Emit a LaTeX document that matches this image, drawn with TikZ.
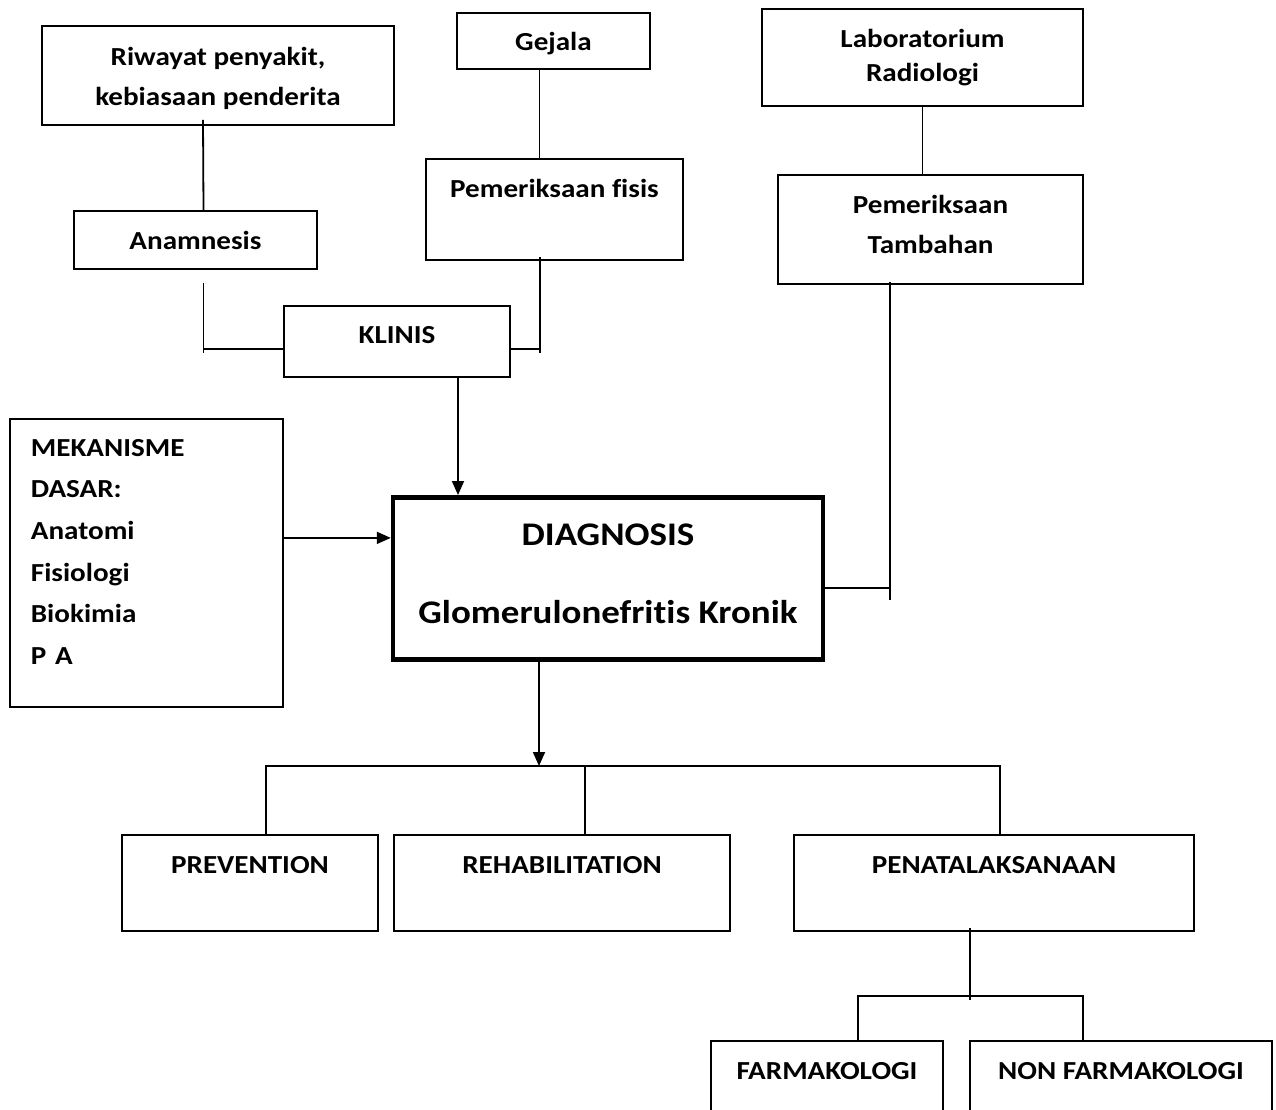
\documentclass[tikz,border=0pt]{standalone}
\usepackage{fontspec}
\setmainfont{Carlito}[FakeStretch=1.12, Ligatures=NoCommon]
\usetikzlibrary{positioning,arrows.meta}

\begin{document}
\begin{tikzpicture}[x=1pt, y=-1pt,
		rectnode/.style={rectangle, draw=black, line width=1.8pt, inner sep=0pt, align=center, font=\fontsize{26}{40}\selectfont\bfseries},
		bignode/.style={rectnode, line width=4.5pt, font=\fontsize{33}{78}\selectfont\bfseries},
		lownode/.style={rectnode, anchor=north, minimum height=96pt, text height=38.4pt, text depth=57.6pt},
		link/.style={line width=1.8pt},
		arrow/.style={link, -{Triangle[length=14pt, width=12pt]}},
	]

		\useasboundingbox (0,0) rectangle (1276,1110);

		% nodes
		\node[rectnode, anchor=north, minimum width=352pt, text height=80pt, text depth=19pt] (riwayat) at (218,25) {Riwayat penyakit,\\kebiasaan penderita};
		\node[rectnode, anchor=north, minimum width=193pt, text height=38pt, text depth=18pt] (gejala) at (553.5,12) {Gejala};
		\node[rectnode, minimum width=321pt, minimum height=97pt, font=\fontsize{26}{34}\selectfont\bfseries] (lab) at (922.5,57.5) {Laboratorium\\Radiologi};
		\node[rectnode, minimum width=243pt, minimum height=58pt] (anamnesis) at (195.5,240) {Anamnesis};
		\node[rectnode, anchor=north, minimum width=257pt, text height=38.4pt, text depth=62.6pt] (fisis) at (554.5,158) {Pemeriksaan fisis};
		\node[rectnode, anchor=north, minimum width=305pt, text height=79pt, text depth=30pt] (tambahan) at (930.5,174) {Pemeriksaan\\Tambahan};
		\node[rectnode, anchor=north, minimum width=226pt, text height=37.4pt, text depth=33.6pt] (klinis) at (397,305) {KLINIS};
		\node[rectnode, anchor=north west, align=left, text width=231pt, inner xsep=21pt, text height=37.4pt, text depth=250.6pt, font=\fontsize{26}{41.6}\selectfont\bfseries] (mekanisme) at (9,418) {MEKANISME\\DASAR:\\Anatomi\\Fisiologi\\Biokimia\\P A};
		\node[bignode, anchor=north, minimum width=430pt, text height=126pt, text depth=36pt] (diagnosis) at (608,495) {DIAGNOSIS\\Glomerulonefritis Kronik};
		\node[lownode, minimum width=256pt] (prevention) at (250,834) {PREVENTION};
		\node[lownode, minimum width=336pt] (rehab) at (562,834) {REHABILITATION};
		\node[lownode, minimum width=400pt] (penata) at (994,834) {PENATALAKSANAAN};
		\node[lownode, minimum width=232pt, text depth=61.6pt] (farma) at (827,1040) {FARMAKOLOGI};
		\node[lownode, minimum width=302pt, text depth=61.6pt] (nonfarma) at (1121,1040) {NON FARMAKOLOGI};

		% knees
		\coordinate (leftknee) at (203.5,349);
		\coordinate (rightknee) at (540,349);
		\coordinate (sideknee) at (890,588);
		\coordinate (bar) at (539,766);
		\coordinate (split) at (970,996);

		% lines
		\draw[link] ([xshift=-15pt, yshift=6pt]riwayat.south) -- ([xshift=8pt]anamnesis.north);
		\draw[link] ([xshift=-14pt]gejala.south) -- ([xshift=-15pt]fisis.north);
		\draw[link] ([yshift=2pt]lab.south) -- (lab.south |- tambahan.north);
		\draw[link] ([xshift=8pt, yshift=-13pt]anamnesis.south) -- ([yshift=-4pt]leftknee);
		\draw[link] (leftknee) -- (leftknee -| klinis.west);
		\draw[link] ([xshift=-14.5pt, yshift=4pt]fisis.south) -- ([yshift=-4pt]rightknee);
		\draw[link] (rightknee) -- (rightknee -| klinis.east);
		\draw[link] ([xshift=-40.5pt, yshift=3pt]tambahan.south) -- ([yshift=-12pt]sideknee);
		\draw[link] (sideknee) -- (sideknee -| diagnosis.east);
		\draw[arrow] ([xshift=61pt]klinis.south) -- ([xshift=61pt]klinis.south |- diagnosis.north);
		\draw[arrow] ([yshift=25pt]mekanisme.east) -- ([yshift=25pt]mekanisme.east -| diagnosis.west);
		\draw[arrow] (diagnosis.south -| bar) -- (bar);
		\draw[link] ([xshift=16pt]prevention.north) |- ([xshift=6pt]penata.north |- bar) -- ([xshift=6pt]penata.north);
		\draw[link] ([xshift=23pt]rehab.north) -- ([xshift=23pt]rehab.north |- bar);
		\draw[link] ([xshift=-24pt, yshift=4pt]penata.south) -- ([yshift=-4pt]split);
		\draw[link] ([xshift=31pt]farma.north) |- ([xshift=-38pt]nonfarma.north |- split) -- ([xshift=-38pt]nonfarma.north);

	\end{tikzpicture}
\end{document}
